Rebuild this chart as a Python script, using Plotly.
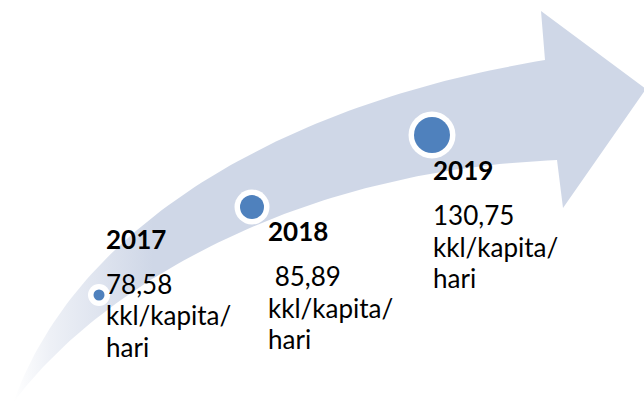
import numpy as np
import plotly.graph_objects as go

# ---- data ----
years = ["2017", "2018", "2019"]
values = ["78,58", "85,89", "130,75"]
unit_lines = ["kkl/kapita/", "hari"]

# ---- layout constants (pixel space, y downwards) ----
dot_x = [99, 252, 432]
dot_y = [295, 207, 135]
ring_d = [22, 35, 47]
dot_d = [11, 24, 36]
text_x = [103.5, 266, 430.5]
year_base = [247.3, 239.3, 178.5]
val_base = [292.7, 285.0, 224.0]
line_step = 31.4
val_prefix = ["", "&nbsp;", ""]
FS = 26
ASC = 1 + 0.987 * FS  # top-of-box to baseline for Lato

W, H = 644, 404
ARROW = "#CFD7E7"
DOT = "#4F81BD"


def cubic(p0, p1, p2, p3, n=80):
    t = np.linspace(0, 1, n)[:, None]
    p0, p1, p2, p3 = map(np.array, (p0, p1, p2, p3))
    return ((1 - t) ** 3) * p0 + 3 * ((1 - t) ** 2) * t * p1 + 3 * (1 - t) * t ** 2 * p2 + t ** 3 * p3


upper = cubic((13, 403), (80, 215), (300, 100), (545, 60))
head = np.array([(541, 11), (646, 89), (563, 208), (557, 160)])
lower = cubic((557, 160), (300, 170), (100, 285), (13, 403))
poly = np.vstack([upper, head, lower])

fig = go.Figure()
fig.add_trace(go.Scatter(
    x=poly[:, 0], y=poly[:, 1], mode="lines", fill="toself",
    line=dict(width=0, color=ARROW),
    fillgradient=dict(type="horizontal",
                      colorscale=[[0, "#FFFFFF"], [0.06, "#EDF0F6"], [0.22, ARROW], [1, ARROW]]),
    hoverinfo="skip", showlegend=False))

fig.add_trace(go.Scatter(x=dot_x, y=dot_y, mode="markers",
                         marker=dict(size=ring_d, color="white", opacity=1, line=dict(width=0)),
                         hoverinfo="skip", showlegend=False))
fig.add_trace(go.Scatter(x=dot_x, y=dot_y, mode="markers",
                         marker=dict(size=dot_d, color=DOT, opacity=1, line=dict(width=0)),
                         hoverinfo="skip", showlegend=False))

FONT = "Lato, 'Open Sans', sans-serif"


def label(x, base, text):
    fig.add_annotation(x=x, y=base - ASC, text=text, xanchor="left", yanchor="top",
                       align="left", showarrow=False,
                       font=dict(family=FONT, size=FS, color="black"))


for i, yr in enumerate(years):
    label(text_x[i], year_base[i], "<b>" + yr + "</b>")
    lines = [val_prefix[i] + values[i]] + unit_lines
    for k, ln in enumerate(lines):
        label(text_x[i], val_base[i] + k * line_step, ln)

fig.update_layout(
    width=W, height=H, margin=dict(l=0, r=0, t=0, b=0),
    paper_bgcolor="white", plot_bgcolor="white",
    xaxis=dict(range=[0, W], visible=False, fixedrange=True),
    yaxis=dict(range=[H, 0], visible=False, fixedrange=True),
)
fig.write_html("out.html", config={"displayModeBar": False},
               post_script="document.body.style.margin='0';document.body.style.padding='0';")
